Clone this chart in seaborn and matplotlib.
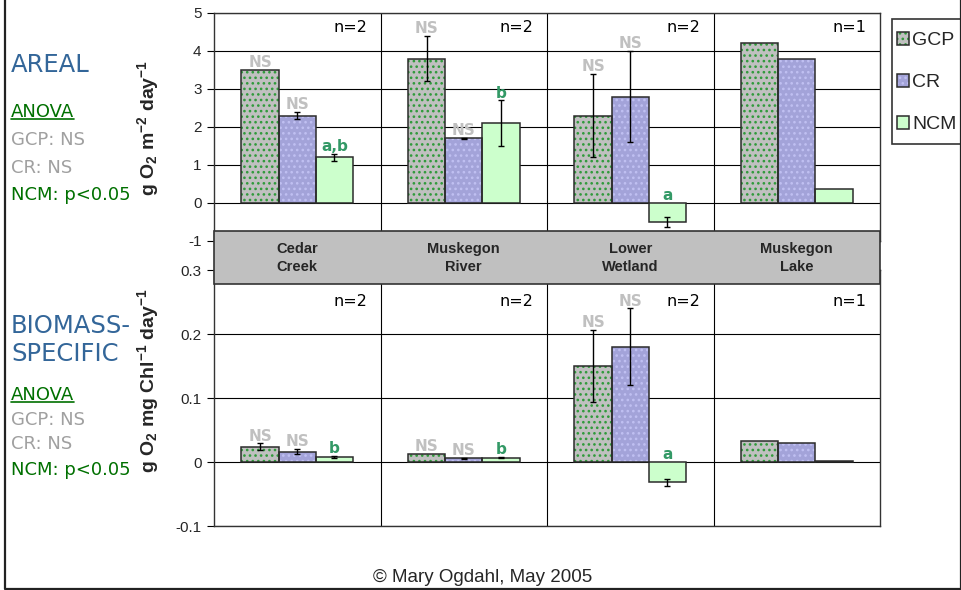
import numpy as np
import pandas as pd
import matplotlib
matplotlib.use("Agg")
import matplotlib.pyplot as plt
import matplotlib.transforms as mtransforms
from matplotlib.patches import Rectangle
from matplotlib.lines import Line2D
from matplotlib.container import BarContainer
from matplotlib.legend_handler import HandlerTuple
import seaborn as sns

# ---------------------------------------------------------------- data
sites = ["Cedar\nCreek", "Muskegon\nRiver", "Lower\nWetland", "Muskegon\nLake"]
metrics = ["GCP", "CR", "NCM"]
n_obs = ["n=2", "n=2", "n=2", "n=1"]

# areal rates, g O2 m-2 day-1
areal_gcp = [3.5, 3.8, 2.3, 4.2]
areal_cr = [2.3, 1.7, 2.8, 3.8]
areal_ncm = [1.2, 2.1, -0.5, 0.37]
areal_gcp_err = [np.nan, 0.6, 1.1, np.nan]
areal_cr_err = [0.1, 0.01, 1.2, np.nan]
areal_ncm_err = [0.1, 0.6, 0.13, np.nan]
areal_gcp_tags = ["NS", "NS", "NS", ""]
areal_cr_tags = ["NS", "NS", "NS", ""]
areal_ncm_tags = ["a,b", "b", "a", ""]

# biomass-specific rates, g O2 mg Chl-1 day-1
bio_gcp = [0.024, 0.013, 0.15, 0.033]
bio_cr = [0.016, 0.006, 0.18, 0.030]
bio_ncm = [0.008, 0.007, -0.032, 0.002]
bio_gcp_err = [0.005, np.nan, 0.056, np.nan]
bio_cr_err = [0.004, 0.001, 0.06, np.nan]
bio_ncm_err = [0.001, 0.001, 0.005, np.nan]
bio_gcp_tags = ["NS", "NS", "NS", ""]
bio_cr_tags = ["NS", "NS", "NS", ""]
bio_ncm_tags = ["b", "b", "a", ""]

areal_ticks = [-1, 0, 1, 2, 3, 4, 5]
areal_ticklabels = ["-1", "0", "1", "2", "3", "4", "5"]
bio_ticks = [-0.1, 0.0, 0.1, 0.2, 0.3]
bio_ticklabels = ["-0.1", "0", "0.1", "0.2", "0.3"]

# ---------------------------------------------------------------- style
sns.set_style("white")
plt.rcParams["font.family"] = ["Liberation Sans", "DejaVu Sans"]
plt.rcParams["mathtext.fontset"] = "custom"
plt.rcParams["mathtext.bf"] = "Liberation Sans:bold"
plt.rcParams["mathtext.rm"] = "Liberation Sans:bold"
plt.rcParams["mathtext.default"] = "bf"
plt.rcParams["hatch.linewidth"] = 1.1

fill_colors = {"GCP": "#c0c0c0", "CR": "#a3a3d9", "NCM": "#ccffcc"}
dot_colors = {"GCP": "#2f9a3a", "CR": "#c0c0f2", "NCM": None}
outline = "#2b2b2b"
tag_colors = {"NS": "#c0c0c0", "letter": "#339966"}
title_blue = "#336699"
anova_green = "#007000"
ns_gray = "#a0a0a0"
sans_tahoma = ["DejaVu Sans"]

W, H = 962, 590
fig = plt.figure(figsize=(W / 100, H / 100), dpi=100)


def fx(px):
    return px / W


def fy(py):
    return 1 - py / H


ax_top = fig.add_axes([fx(214), fy(241), fx(880) - fx(214), fy(13) - fy(241)])
ax_bot = fig.add_axes([fx(214), fy(526), fx(880) - fx(214), fy(270) - fy(526)])


def panel(ax, vals, errs, tags, ylim, ticks, ticklabels, ylabel, label_y, n_y):
    df = pd.DataFrame({
        "site": np.repeat(sites, len(metrics)),
        "metric": metrics * len(sites),
        "value": np.ravel(np.column_stack(vals)),
    })
    sns.barplot(data=df, x="site", y="value", hue="metric", order=sites,
                hue_order=metrics, palette=fill_colors, width=0.67,
                errorbar=None, saturation=1, linewidth=0, legend=False,
                ax=ax, zorder=2)
    bar_sets = [c for c in ax.containers if isinstance(c, BarContainer)]
    handles = []
    for m_i, cont in enumerate(bar_sets):
        m = metrics[m_i]
        xs, ys, es, outlines = [], [], [], []
        for bar in cont:
            j = int(round(bar.get_x() + bar.get_width() / 2))
            if dot_colors[m]:
                bar.set_hatch("...")
                bar.set_edgecolor(dot_colors[m])
                bar.set_linewidth(0)
            edge = Rectangle(bar.get_xy(), bar.get_width(), bar.get_height(),
                             fill=False, edgecolor=outline, linewidth=1.1,
                             zorder=3)
            ax.add_patch(edge)
            outlines.append(edge)
            xc = bar.get_x() + bar.get_width() / 2
            v = vals[m_i][j]
            e = errs[m_i][j]
            xs.append(xc)
            ys.append(v)
            es.append(e)
            tag = tags[m_i][j]
            if tag:
                top = v + (0 if np.isnan(e) else e) if v >= 0 else 0.0
                color = tag_colors["NS"] if tag == "NS" else tag_colors["letter"]
                ax.annotate(tag, (xc, top), xytext=(0, 2), textcoords="offset points",
                            ha="center", va="baseline", fontsize=11,
                            fontweight="bold", color=color, zorder=5,
                            family=sans_tahoma)
        ok = ~np.isnan(np.array(es, dtype=float))
        ax.errorbar(np.array(xs)[ok], np.array(ys)[ok], yerr=np.array(es)[ok],
                    fmt="none", ecolor="black", elinewidth=1, capsize=2.5,
                    capthick=1, zorder=4)
        handles.append((cont.patches[0], outlines[0]))

    ax.set_xlim(-0.5, len(sites) - 0.5)
    ax.set_ylim(*ylim)
    ax.set_yticks(ticks)
    ax.set_yticklabels(ticklabels, fontsize=11)
    ax.set_xticks([])
    ax.set_xlabel("")
    ax.yaxis.grid(True, color="black", linewidth=0.8)
    ax.set_axisbelow(True)
    for b in np.arange(0.5, len(sites) - 0.5, 1.0):
        ax.axvline(b, color="black", linewidth=0.8, zorder=1)
    for s in ax.spines.values():
        s.set_color("#333333")
        s.set_linewidth(1.0)
    ax.tick_params(axis="y", direction="out", length=5, width=0.8,
                   color="black", left=True, pad=4)
    ax.set_ylabel(ylabel, fontsize=14, fontweight="bold")
    ax.yaxis.set_label_coords(-0.08, label_y)
    trans = mtransforms.blended_transform_factory(ax.transData, ax.transAxes)
    for j, n in enumerate(n_obs):
        ax.text(j + 0.42, n_y, n, transform=trans, ha="right", va="center",
                fontsize=11.5, family=sans_tahoma, color="black")
    return handles


handles = panel(ax_top, [areal_gcp, areal_cr, areal_ncm],
                [areal_gcp_err, areal_cr_err, areal_ncm_err],
                [areal_gcp_tags, areal_cr_tags, areal_ncm_tags],
                (-1, 5), areal_ticks, areal_ticklabels,
                r"g O$_2$ m$^{-2}$ day$^{-1}$", 0.496, 0.935)
panel(ax_bot, [bio_gcp, bio_cr, bio_ncm],
      [bio_gcp_err, bio_cr_err, bio_ncm_err],
      [bio_gcp_tags, bio_cr_tags, bio_ncm_tags],
      (-0.1, 0.3), bio_ticks, bio_ticklabels,
      r"g O$_2$ mg Chl$^{-1}$ day$^{-1}$", 0.57, 0.875)

# site name band between the two panels
band = Rectangle((fx(214), fy(284)), fx(880) - fx(214), fy(231) - fy(284),
                 transform=fig.transFigure, facecolor="#c0c0c0",
                 edgecolor="#333333", linewidth=1.2, zorder=10)
fig.add_artist(band)
band_trans = mtransforms.blended_transform_factory(ax_top.transData, fig.transFigure)
for j, s in enumerate(sites):
    fig.text(j, fy(258), s, transform=band_trans, ha="center", va="center",
             fontsize=10.5, fontweight="bold", linespacing=1.35, zorder=11)

# legend with its own box
legend_box = Rectangle((fx(892), fy(144)), fx(961) - fx(892), fy(19) - fy(144),
                       transform=fig.transFigure, facecolor="white",
                       edgecolor="#333333", linewidth=1.2, zorder=8)
fig.add_artist(legend_box)
leg = fig.legend(handles=handles, labels=metrics,
                 handler_map={tuple: HandlerTuple(ndivide=1, pad=0)},
                 loc="upper left", bbox_to_anchor=(fx(897), fy(32)),
                 bbox_transform=fig.transFigure, frameon=False,
                 borderaxespad=0, borderpad=0,
                 handlelength=0.62, handleheight=0.62, handletextpad=0.15,
                 labelspacing=1.28, fontsize=14)
leg.set_zorder(9)

# side notes for each panel
notes = [
    ("AREAL", 72, 17.5, title_blue),
    ("ANOVA", 117, 13, anova_green),
    ("GCP: NS", 145, 13, ns_gray),
    ("CR: NS", 173, 13, ns_gray),
    ("NCM: p<0.05", 200, 13, anova_green),
    ("BIOMASS-", 333, 17.5, title_blue),
    ("SPECIFIC", 361, 17.5, title_blue),
    ("ANOVA", 400, 13, anova_green),
    ("GCP: NS", 425, 13, ns_gray),
    ("CR: NS", 449, 13, ns_gray),
    ("NCM: p<0.05", 475, 13, anova_green),
]
anova_texts = []
for txt, y, size, col in notes:
    t = fig.text(fx(11), fy(y), txt, ha="left", va="baseline", fontsize=size,
                 color=col, family=sans_tahoma)
    if txt == "ANOVA":
        anova_texts.append((t, y))

fig.text(fx(483), fy(582), "\u00a9 Mary Ogdahl, May 2005", ha="center",
         va="baseline", fontsize=13.5)

# underline the ANOVA headings
fig.canvas.draw()
renderer = fig.canvas.get_renderer()
for t, y in anova_texts:
    bb = t.get_window_extent(renderer)
    fig.add_artist(Line2D([bb.x0 / W, bb.x1 / W], [fy(y + 2), fy(y + 2)],
                          transform=fig.transFigure, color=anova_green,
                          linewidth=1.2))

# outer frame (left, bottom, right)
fig.add_artist(Line2D([fx(5), fx(5), fx(961), fx(961)],
                      [1, fy(589), fy(589), 1], transform=fig.transFigure,
                      color="#222222", linewidth=1.6, zorder=12))

fig.savefig("out.png", dpi=100)
